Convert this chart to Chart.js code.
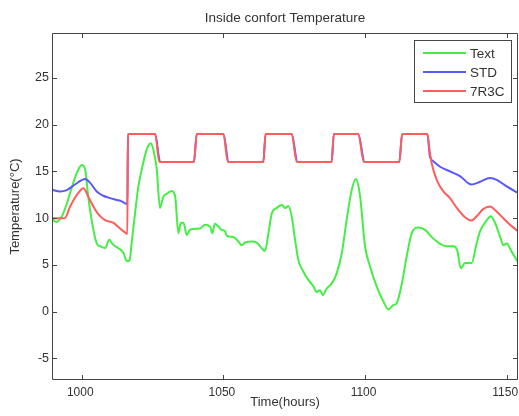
<!DOCTYPE html>
<html>
<head>
<meta charset="utf-8">
<script src="https://cdn.jsdelivr.net/npm/chart.js@4.4.1/dist/chart.umd.min.js"></script>
<style>
  html, body { margin: 0; padding: 0; background: #fff; }
  canvas { display: block; }
</style>
</head>
<body>
<canvas id="c" width="519" height="416"></canvas>
<script>
// ---- data ----
const chartTitle = "Inside confort Temperature";
const xTitle = "Time(hours)";
const yTitle = "Temperature(°C)";
const seriesNames = ["Text", "STD", "7R3C"];
const xTicks = [1000, 1050, 1100, 1150];
const yTicks = [-5, 0, 5, 10, 15, 20, 25];

const textT = [989.5, 991, 993, 995, 996.5, 998.5, 1000, 1001.2, 1002.3, 1003.5, 1005.3, 1006.5, 1008.3, 1009.7, 1011, 1012.9, 1014.7, 1015.9, 1016.9, 1017.6, 1018.8, 1020, 1021.7, 1022.9, 1024.3, 1025.3, 1026.5, 1027.6, 1028.8, 1030, 1031.8, 1033, 1034.1, 1035, 1035.9, 1037.1, 1038.3, 1041.8, 1043.5, 1045.3, 1046.1, 1047, 1048.2, 1049.4, 1050.6, 1051.2, 1053.5, 1055.3, 1056.5, 1057.7, 1060, 1061.8, 1063.5, 1064.7, 1065.9, 1067.1, 1068.8, 1070.6, 1071.8, 1072.9, 1074.1, 1075.3, 1076.5, 1078.2, 1080, 1081.8, 1082.9, 1084.1, 1085.1, 1086.5, 1088.2, 1090, 1091.8, 1093.5, 1095.3, 1096.7, 1098.2, 1100, 1101.8, 1104.1, 1106.5, 1108.2, 1110, 1111.2, 1113, 1114.7, 1116.5, 1118.8, 1121.2, 1123.5, 1126.5, 1128.8, 1131.2, 1132.6, 1133.8, 1135.3, 1137.6, 1139.4, 1140.6, 1143, 1144.4, 1145.9, 1147.7, 1148.8, 1150, 1151.8, 1154];
const textV = [9.9, 9.6, 10.2, 11.8, 13.3, 15.0, 15.7, 15.2, 12.3, 9.8, 7.3, 7.0, 6.8, 7.7, 7.2, 6.8, 6.3, 5.4, 5.5, 7.3, 10.5, 13.4, 15.9, 17.3, 18.0, 17.3, 15.2, 11.1, 12.3, 12.6, 12.9, 12.3, 8.4, 9.5, 9.5, 8.2, 8.8, 8.9, 9.3, 9.1, 8.4, 9.4, 9.1, 8.75, 8.6, 8.1, 8.0, 7.5, 7.1, 7.4, 7.5, 7.4, 6.8, 6.5, 8.4, 10.5, 11.1, 11.4, 11.1, 11.3, 10.2, 7.7, 5.5, 4.3, 3.4, 2.7, 2.1, 2.3, 1.8, 2.5, 3.0, 4.1, 6.25, 9.8, 13.0, 14.2, 12.5, 7.0, 4.8, 2.7, 1.1, 0.25, 0.7, 0.9, 3.0, 5.9, 8.4, 9.0, 8.75, 8.0, 7.25, 7.0, 7.0, 6.5, 4.65, 5.2, 5.2, 7.3, 8.6, 9.8, 10.2, 9.5, 8.0, 7.1, 7.3, 6.4, 5.3];

const stdT = [989.5, 992.3, 994.7, 997.6, 1001.2, 1002.9, 1005.3, 1007.6, 1010, 1012.4, 1014.1, 1015.6, 1016.1, 1016.3, 1025.9, 1027.7, 1039.6, 1040.6, 1050, 1051.9, 1064.1, 1064.9, 1074.1, 1076.2, 1088.2, 1089, 1097.6, 1099.9, 1112.1, 1113.1, 1122, 1122.9, 1124.1, 1126.5, 1130, 1133.5, 1137.6, 1140.6, 1144.1, 1146.5, 1150, 1154];
const stdV = [13.04, 12.85, 13.0, 13.6, 14.2, 13.8, 12.85, 12.4, 12.15, 11.95, 11.8, 11.55, 11.5, 19, 19, 16, 16, 19, 19, 16, 16, 19, 19, 16, 16, 19, 19, 16, 16, 19, 19, 16.6, 16.1, 15.5, 15.0, 14.5, 13.6, 13.9, 14.3, 14.1, 13.4, 12.7];

const r3cT = [989.5, 994, 995.9, 998.8, 1000.6, 1002.3, 1004.1, 1005.9, 1008.2, 1011.2, 1013.5, 1015.6, 1016.1, 1016.3, 1025.9, 1027.4, 1039.6, 1040.6, 1050, 1051.6, 1064.1, 1064.9, 1074.1, 1075.9, 1088.2, 1089, 1097.6, 1099.6, 1112.1, 1113.1, 1122, 1122.9, 1123.5, 1125.3, 1127.6, 1130, 1132.4, 1135.3, 1137.6, 1139.4, 1141.8, 1144.1, 1146.5, 1148.8, 1151.2, 1154];
const r3cV = [10.0, 10.0, 11.25, 12.7, 13.2, 12.3, 11.25, 10.4, 9.8, 9.5, 8.9, 8.4, 8.3, 19, 19, 16, 16, 19, 19, 16, 16, 19, 19, 16, 16, 19, 19, 16, 16, 19, 19, 17, 15.9, 14.1, 12.9, 12.15, 11.1, 10.1, 9.75, 10.2, 11.0, 11.25, 10.7, 10.0, 9.3, 8.6];

const xMin = 989.5, xMax = 1154, yMin = -7.3, yMax = 29.8;
const colors = ["#44ee44", "#5858ff", "#ff5c5c"];

const pts = (t, v) => t.map((x, i) => ({ x: x, y: v[i] }));

const FONT = "'Liberation Sans', Arial, sans-serif";
const TXT = "#333333";
const FRAME = "#444444";

const framePlugin = {
  id: "frame",
  afterDatasetsDraw(chart) {
    const { ctx, chartArea: a, scales } = chart;
    ctx.save();
    ctx.strokeStyle = FRAME;
    ctx.lineWidth = 1;
    ctx.beginPath();
    ctx.rect(Math.round(a.left) + 0.5, Math.round(a.top) + 0.5, Math.round(a.right - a.left) - 1, Math.round(a.bottom - a.top) - 1);
    ctx.stroke();
    const tl = 5;
    ctx.beginPath();
    xTicks.forEach(v => {
      const px = Math.round(scales.x.getPixelForValue(v)) + 0.5;
      ctx.moveTo(px, a.bottom); ctx.lineTo(px, a.bottom - tl);
      ctx.moveTo(px, a.top); ctx.lineTo(px, a.top + tl);
    });
    yTicks.forEach(v => {
      const py = Math.round(scales.y.getPixelForValue(v)) + 0.5;
      ctx.moveTo(a.left, py); ctx.lineTo(a.left + tl, py);
      ctx.moveTo(a.right, py); ctx.lineTo(a.right - tl, py);
    });
    ctx.stroke();
    // title
    ctx.fillStyle = TXT;
    ctx.font = "13.5px " + FONT;
    ctx.textAlign = "center";
    ctx.textBaseline = "middle";
    ctx.fillText(chartTitle, (a.left + a.right) / 2, 18);
    // legend box
    const lx = 414, ly = 40, lw = 97, lh = 62;
    ctx.fillStyle = "#ffffff";
    ctx.fillRect(lx, ly, lw, lh);
    ctx.strokeStyle = FRAME;
    ctx.strokeRect(lx + 0.5, ly + 0.5, lw, lh);
    ctx.font = "13.5px " + FONT;
    ctx.textAlign = "left";
    chart.data.datasets.forEach((ds, i) => {
      const y = 53 + i * 19;
      ctx.strokeStyle = ds.borderColor;
      ctx.lineWidth = 2;
      ctx.beginPath();
      ctx.moveTo(423, y); ctx.lineTo(466, y);
      ctx.stroke();
      ctx.fillStyle = TXT;
      ctx.fillText(ds.label, 470, y + 1);
    });
    ctx.restore();
  }
};

new Chart(document.getElementById("c"), {
  type: "line",
  data: {
    datasets: [
      { label: seriesNames[0], data: pts(textT, textV), borderColor: colors[0], order: 2 },
      { label: seriesNames[1], data: pts(stdT, stdV), borderColor: colors[1], order: 1 },
      { label: seriesNames[2], data: pts(r3cT, r3cV), borderColor: colors[2], order: 0 }
    ]
  },
  options: {
    responsive: false,
    animation: false,
    events: [],
    layout: { padding: { top: 33, right: 1, left: 0, bottom: 0 } },
    elements: {
      point: { radius: 0 },
      line: { borderWidth: 2, cubicInterpolationMode: "monotone", fill: false, borderCapStyle: "round", borderJoinStyle: "round" }
    },
    plugins: { legend: { display: false }, title: { display: false }, tooltip: { enabled: false } },
    scales: {
      x: {
        type: "linear",
        min: xMin, max: xMax,
        afterBuildTicks: s => { s.ticks = xTicks.map(v => ({ value: v })); },
        afterFit: s => { s.height = 36; s.paddingLeft = 0; s.paddingRight = 0; },
        grid: { display: false, drawTicks: false },
        border: { display: false },
        ticks: { color: TXT, font: { family: FONT, size: 12 }, padding: 5, labelOffset: -1.5, maxRotation: 0, autoSkip: false, callback: v => String(v) },
        title: { display: true, text: xTitle, color: TXT, font: { family: FONT, size: 13 }, padding: { top: 0, bottom: 6 } }
      },
      y: {
        type: "linear",
        min: yMin, max: yMax,
        afterBuildTicks: s => { s.ticks = yTicks.map(v => ({ value: v })); },
        afterFit: s => { s.width = 52; s.paddingTop = 0; s.paddingBottom = 0; },
        grid: { display: false, drawTicks: false },
        border: { display: false },
        ticks: { color: TXT, font: { family: FONT, size: 12.5 }, padding: 3, autoSkip: false, callback: v => String(v) },
        title: { display: true, text: yTitle, color: TXT, font: { family: FONT, size: 13 }, padding: { top: 8, bottom: 0 } }
      }
    }
  },
  plugins: [framePlugin]
});
</script>
</body>
</html>
